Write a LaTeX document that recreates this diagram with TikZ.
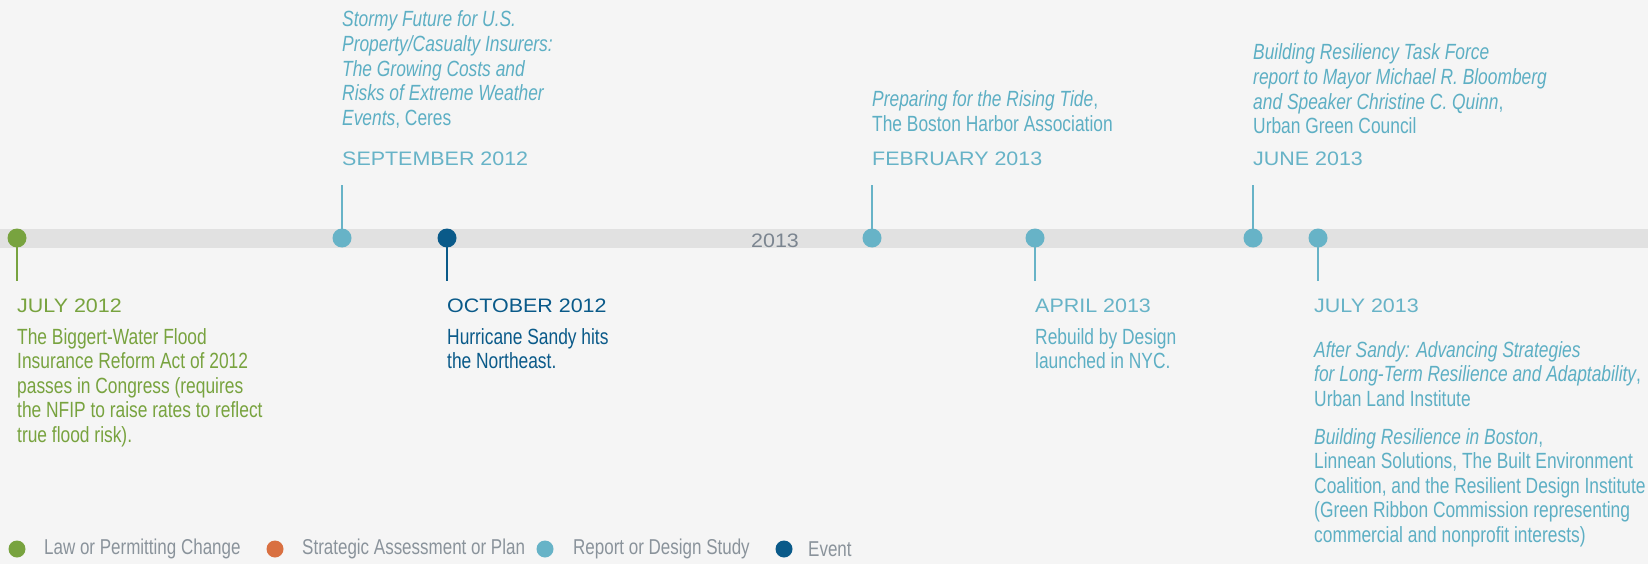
\documentclass[tikz,border=0pt]{standalone}
\usepackage{fontspec}
\setmainfont{Liberation Sans}
\newfontfamily\condf[FakeStretch=0.79]{Liberation Sans}
\newfontfamily\widef[FakeStretch=1.1]{Liberation Sans}
\definecolor{bg}{HTML}{F5F5F5}
\definecolor{band}{HTML}{E1E1E1}
\definecolor{lawc}{HTML}{78A33F}
\definecolor{planc}{HTML}{D97041}
\definecolor{repc}{HTML}{67B3C7}
\definecolor{rept}{HTML}{5DAFC4}
\definecolor{evc}{HTML}{0A5A89}
\definecolor{yearc}{HTML}{7B8590}
\definecolor{legc}{HTML}{8A939B}
\newcommand{\txtlines}[1]{\begin{tabular}[t]{@{}l@{}}#1\end{tabular}}
\begin{document}
\begin{tikzpicture}[x=1pt,y=-1pt,
  body/.style={anchor=base west, inner sep=0, font=\condf\fontsize{22}{24.6}\selectfont},
  datelbl/.style={anchor=base west, inner sep=0, font=\widef\fontsize{19.5}{22}\selectfont},
  dot/.style={circle, inner sep=0, minimum size=19pt},
  legdot/.style={circle, inner sep=0, minimum size=17pt},
  legtext/.style={anchor=west, inner sep=0, text=legc, font=\condf\fontsize{21.5}{24}\selectfont},
  stem/.style={line width=2.5pt}]
  % canvas and timeline band
  \fill[bg] (0,0) rectangle (1648,564);
  \useasboundingbox (0,0) rectangle (1648,564);
  \fill[band] (0,229) rectangle (1648,248);
  \node[anchor=base, inner sep=0, text=yearc, font=\widef\fontsize{19.5}{22}\selectfont] (year) at (775,247) {2013};

  % July 2012
  \coordinate (s1) at (17,281);
  \draw[stem, lawc] (17,238) -- (s1);
  \node[dot, fill=lawc] (d1) at (17,238) {};
  \node[datelbl, text=lawc] (t1) at (17,312) {JULY 2012};
  \node[body, text=lawc] (b1) at (17,344) {\txtlines{The Biggert-Water Flood\\Insurance Reform Act of 2012\\passes in Congress (requires\\the NFIP to raise rates to reflect\\true flood risk).}};

  % September 2012
  \coordinate (s2) at (342,185);
  \draw[stem, repc] (342,238) -- (s2);
  \node[dot, fill=repc] (d2) at (342,238) {};
  \node[datelbl, text=repc] (t2) at (342,166) {SEPTEMBER 2012};
  \node[body, text=rept] (b2) at (342,27) {\txtlines{\textit{Stormy Future for U.S.}\\\textit{Property/Casualty Insurers:}\\\textit{The Growing Costs and}\\\textit{Risks of Extreme Weather}\\\textit{Events}, Ceres}};

  % October 2012
  \coordinate (s3) at (447,281);
  \draw[stem, evc] (447,238) -- (s3);
  \node[dot, fill=evc] (d3) at (447,238) {};
  \node[datelbl, text=evc] (t3) at (447,312) {OCTOBER 2012};
  \node[body, text=evc] (b3) at (447,344) {\txtlines{Hurricane Sandy hits\\the Northeast.}};

  % February 2013
  \coordinate (s4) at (872,185);
  \draw[stem, repc] (872,238) -- (s4);
  \node[dot, fill=repc] (d4) at (872,238) {};
  \node[datelbl, text=repc] (t4) at (872,166) {FEBRUARY 2013};
  \node[body, text=rept] (b4) at (872,107) {\txtlines{\textit{Preparing for the Rising Tide},\\The Boston Harbor Association}};

  % April 2013
  \coordinate (s5) at (1035,281);
  \draw[stem, repc] (1035,238) -- (s5);
  \node[dot, fill=repc] (d5) at (1035,238) {};
  \node[datelbl, text=repc] (t5) at (1035,312) {APRIL 2013};
  \node[body, text=rept] (b5) at (1035,344) {\txtlines{Rebuild by Design\\launched in NYC.}};

  % June 2013
  \coordinate (s6) at (1253,185);
  \draw[stem, repc] (1253,238) -- (s6);
  \node[dot, fill=repc] (d6) at (1253,238) {};
  \node[datelbl, text=repc] (t6) at (1253,166) {JUNE 2013};
  \node[body, text=rept] (b6) at (1253,60) {\txtlines{\textit{Building Resiliency Task Force}\\\textit{report to Mayor Michael R. Bloomberg}\\\textit{and Speaker Christine C. Quinn},\\Urban Green Council}};

  % July 2013
  \coordinate (s7) at (1318,281);
  \draw[stem, repc] (1318,238) -- (s7);
  \node[dot, fill=repc] (d7) at (1318,238) {};
  \node[datelbl, text=repc] (t7) at (1314,312) {JULY 2013};
  \node[body, text=rept] (b7a) at (1314,357) {\txtlines{\textit{After Sandy: Advancing Strategies}\\\textit{for Long-Term Resilience and Adaptability},\\Urban Land Institute}};
  \node[body, text=rept] (b7b) at (1314,444) {\txtlines{\textit{Building Resilience in Boston},\\Linnean Solutions, The Built Environment\\Coalition, and the Resilient Design Institute\\(Green Ribbon Commission representing\\commercial and nonprofit interests)}};

  % legend
  \node[legdot, fill=lawc] (l1) at (17,549) {};
  \node[legtext] (lt1) at (44,549) {Law or Permitting Change};
  \node[legdot, fill=planc] (l2) at (275,549) {};
  \node[legtext] (lt2) at (302,549) {Strategic Assessment or Plan};
  \node[legdot, fill=repc] (l3) at (545,549) {};
  \node[legtext] (lt3) at (573,549) {Report or Design Study};
  \node[legdot, fill=evc] (l4) at (784,549) {};
  \node[legtext] (lt4) at (808,549) {Event};
\end{tikzpicture}
\end{document}
